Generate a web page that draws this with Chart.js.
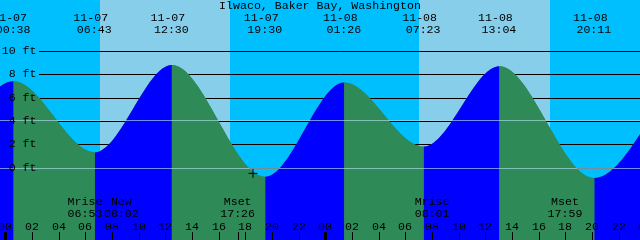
<!DOCTYPE html>
<html>
<head>
<meta charset="utf-8">
<script src="https://cdn.jsdelivr.net/npm/chart.js@4.4.1/dist/chart.umd.min.js"></script>
<style>
  html, body { margin: 0; padding: 0; background: #00bfff; }
  #wrap { width: 640px; height: 240px; position: relative; }
</style>
</head>
<body>
<div id="wrap"><canvas id="tide"></canvas></div>
<script>
// tide extremes (first and last lie just outside the window)
const tideTimes   = ['11-06 18:45', '11-07 00:38', '11-07 06:43', '11-07 12:30', '11-07 19:30',
                     '11-08 01:26', '11-08 07:23', '11-08 13:04', '11-08 20:11', '11-09 02:15'];
const tideHeights = [-0.6, 7.4, 1.3, 8.8, -0.8, 7.3, 1.8, 8.7, -0.9, 7.3];

const sunrise = ['11-07 07:05', '11-08 07:04'];
const sunset  = ['11-07 16:50', '11-08 16:50'];

const moonNames = ['Mrise', 'New', 'Mset', 'Mrise', 'Mset'];
const moonTimes = ['11-07 06:53', '11-07 08:02', '11-07 17:26', '11-08 08:01', '11-08 17:59'];
const moonNudge = [-12, 9, 0, 0, 0];
const markTicks = ['11-07 17:26'];

const nowTime = '11-07 18:35';
const nowHeight = -0.5;

const depthTicks = [0, 2, 4, 6, 8, 10];
const meanLevel = 4.05;

const TITLE = 'Ilwaco, Baker Bay, Washington';
const NIGHT = '#00bfff', DAY = '#87ceeb';
const RISE = '#0000ff', FALL = '#2e8b57';
const FONT = '11.6px "Liberation Mono", "DejaVu Sans Mono", monospace';

// hours since 11-07 00:00
const toHours = s => (parseInt(s.slice(3, 5), 10) - 7) * 24 + parseInt(s.slice(6, 8), 10) + parseInt(s.slice(9, 11), 10) / 60;
const pad = n => String(n).padStart(2, '0');

const X_MIN = -0.39, X_MAX = 47.61;
const Y_MIN = -6.22, Y_MAX = 14.38;

const tidePoints = tideTimes.map((t, i) => ({ x: toHours(t), y: tideHeights[i] }));

const tidePainter = {
  id: 'tidePainter',
  beforeDatasetsDraw(chart) {
    const { ctx, chartArea: a, scales: { x, y } } = chart;
    ctx.save();
    ctx.fillStyle = NIGHT;
    ctx.fillRect(a.left, a.top, a.width, a.height);
    ctx.fillStyle = DAY;
    sunrise.forEach((s, i) => {
      const x0 = Math.round(x.getPixelForValue(toHours(s)));
      const x1 = Math.round(x.getPixelForValue(toHours(sunset[i])));
      ctx.fillRect(x0, a.top, x1 - x0, a.height);
    });
    ctx.strokeStyle = '#000';
    ctx.lineWidth = 1;
    depthTicks.forEach(v => {
      const py = Math.round(y.getPixelForValue(v)) + 0.5;
      ctx.beginPath(); ctx.moveTo(39, py); ctx.lineTo(a.right, py); ctx.stroke();
    });
    ctx.restore();
  },
  afterDatasetsDraw(chart) {
    const { ctx, chartArea: a, scales: { y } } = chart;
    ctx.save();
    ctx.strokeStyle = 'rgba(175,220,232,0.65)';
    ctx.lineWidth = 1;
    [0, meanLevel].forEach(v => {
      const py = Math.round(y.getPixelForValue(v)) + 0.5;
      ctx.beginPath(); ctx.moveTo(a.left, py); ctx.lineTo(a.right, py); ctx.stroke();
    });
    ctx.restore();
  },
  afterDraw(chart) {
    const { ctx, scales: { x, y } } = chart;
    ctx.save();
    ctx.font = FONT;
    ctx.fillStyle = '#000';
    ctx.textBaseline = 'middle';

    ctx.textAlign = 'center';
    ctx.fillText(TITLE, 320, 6);

    // extreme labels at top
    tideTimes.forEach(t => {
      const h = toHours(t);
      if (h < X_MIN || h > X_MAX) return;
      const px = x.getPixelForValue(h);
      ctx.fillText(t.slice(0, 5), px - 4, 17.5);
      ctx.fillText(t.slice(6), px - 0.5, 29.5);
    });

    // depth labels
    ctx.textAlign = 'right';
    depthTicks.forEach(v => ctx.fillText(v + ' ft', 36.5, y.getPixelForValue(v)));

    // moon events
    ctx.textAlign = 'center';
    moonTimes.forEach((t, i) => {
      const px = x.getPixelForValue(toHours(t)) + moonNudge[i];
      ctx.fillText(moonNames[i], px, 201.5);
      ctx.fillText(t.slice(6), px, 213.5);
    });

    // hour axis
    for (let h = 0; h <= 48; h += 2) {
      const px = Math.round(x.getPixelForValue(h));
      ctx.fillText(pad(h % 24), px, 226.5);
      if (h % 24 === 0) ctx.fillRect(px - 1, 232, 3, 8);
      else ctx.fillRect(px, 232, 1, 8);
    }
    markTicks.forEach(t => {
      const px = Math.round(x.getPixelForValue(toHours(t)));
      ctx.fillRect(px, 232, 1, 8);
    });
    ctx.restore();
  }
};

new Chart(document.getElementById('tide'), {
  type: 'line',
  data: {
    datasets: [{
      label: 'now',
      type: 'scatter',
      data: [{ x: toHours(nowTime), y: nowHeight }],
      pointStyle: 'cross',
      pointRadius: 4.5,
      borderColor: '#000',
      borderWidth: 1,
      order: 0
    }, {
      label: 'Tide (ft)',
      data: tidePoints,
      borderColor: 'transparent',
      borderWidth: 0,
      pointRadius: 0,
      cubicInterpolationMode: 'monotone',
      fill: 'start',
      backgroundColor: FALL,
      segment: {
        backgroundColor: c => c.p1.parsed.y > c.p0.parsed.y ? RISE : FALL
      },
      order: 1
    }, {
      // plain underlay so the seams between coloured segments don't show the sky
      label: 'underlay',
      data: tidePoints,
      borderColor: 'transparent',
      borderWidth: 0,
      pointRadius: 0,
      cubicInterpolationMode: 'monotone',
      fill: 'start',
      backgroundColor: FALL,
      order: 2
    }]
  },
  options: {
    responsive: true,
    maintainAspectRatio: false,
    animation: false,
    layout: { padding: 0, autoPadding: false },
    scales: {
      x: { type: 'linear', min: X_MIN, max: X_MAX, display: false },
      y: { type: 'linear', min: Y_MIN, max: Y_MAX, display: false }
    },
    plugins: {
      legend: { display: false },
      tooltip: { enabled: false }
    }
  },
  plugins: [tidePainter]
});
</script>
</body>
</html>
